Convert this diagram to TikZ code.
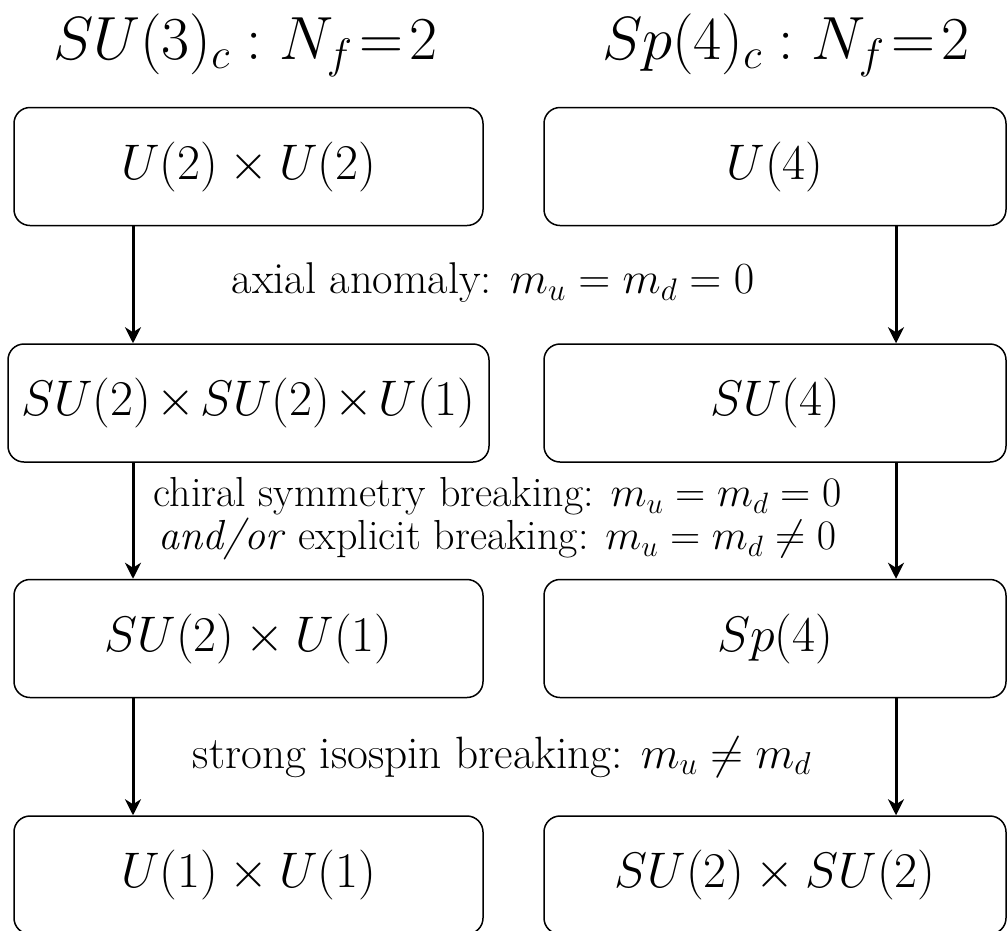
\RequirePackage{fix-cm}
\documentclass[tikz,border=0pt]{standalone}
\usepackage{graphicx}
\usetikzlibrary{arrows.meta}
\newcommand\bxfont{\fontsize{50}{60}\selectfont}
\newcommand\ttlfont{\fontsize{61}{73}\selectfont}
\newcommand\lblfonta{\fontsize{44.5}{48}\selectfont}
\newcommand\lblfontb{\fontsize{42}{43}\selectfont}
\newcommand\lblfontc{\fontsize{45.3}{48}\selectfont}
\begin{document}
\begin{tikzpicture}[x=1pt,y=-1pt,
  box/.style={draw, line width=1.5pt, rounded corners=16pt, minimum width=469pt,
    minimum height=118pt, inner sep=0pt, font=\bxfont},
  ttl/.style={font=\ttlfont, inner sep=0pt},
  lbl/.style={inner sep=0pt, align=center},
  arr/.style={line width=3pt, -{Stealth[length=16pt,width=16pt,inset=5pt]}}]
\useasboundingbox (0,0) rectangle (1007,930);
\clip (0,0) rectangle (1007,930);
\coordinate (xl) at (133,0);
\coordinate (xr) at (896,0);
% titles
\node[ttl] (t1) at (245.5,45) {$SU(3)_c : N_f\mskip2mu{=}\mskip2mu2$};
\node[ttl] (t2) at (786,45) {$Sp(4)_c : N_f\mskip2mu{=}\mskip2mu2$};
% left column
\node[box] (a1) at (248.5,166.5) {$U(2)\times U(2)$};
\node[box, minimum width=481pt] (a2) at (248.5,403) {$SU(2)\mskip1.8mu{\times}\mskip1.8mu SU(2)\mskip1.8mu{\times}\mskip1.8mu U(1)$};
\node[box] (a3) at (248.5,638.5) {$SU(2)\times U(1)$};
\node[box] (a4) at (248.5,875) {$U(1)\times U(1)$};
% right column
\node[box, minimum width=462pt] (b1) at (775,166.5) {$U(4)$};
\node[box, minimum width=462pt] (b2) at (775,403) {$SU(4)$};
\node[box, minimum width=462pt] (b3) at (775,638.5) {$Sp(4)$};
\node[box, minimum width=462pt] (b4) at (775,875) {$SU(2)\times SU(2)$};
% labels
\node[lbl, font=\lblfonta] (l1) at (493,283) {axial anomaly: $m_u=m_d=0$};
\node[lbl, font=\lblfontb] (l2) at (497.5,519) {chiral symmetry breaking: $m_u=m_d=0$\\ \textit{and/or} explicit breaking: $m_u=m_d\neq0$};
\node[lbl, font=\lblfontc] (l3) at (502,757) {strong isospin breaking: $m_u\neq m_d$};
% arrows
\draw[arr] (a1.south -| xl) -- (a2.north -| xl);
\draw[arr] (a2.south -| xl) -- (a3.north -| xl);
\draw[arr] (a3.south -| xl) -- (a4.north -| xl);
\draw[arr] (b1.south -| xr) -- (b2.north -| xr);
\draw[arr] (b2.south -| xr) -- (b3.north -| xr);
\draw[arr] (b3.south -| xr) -- (b4.north -| xr);
\end{tikzpicture}
\end{document}
